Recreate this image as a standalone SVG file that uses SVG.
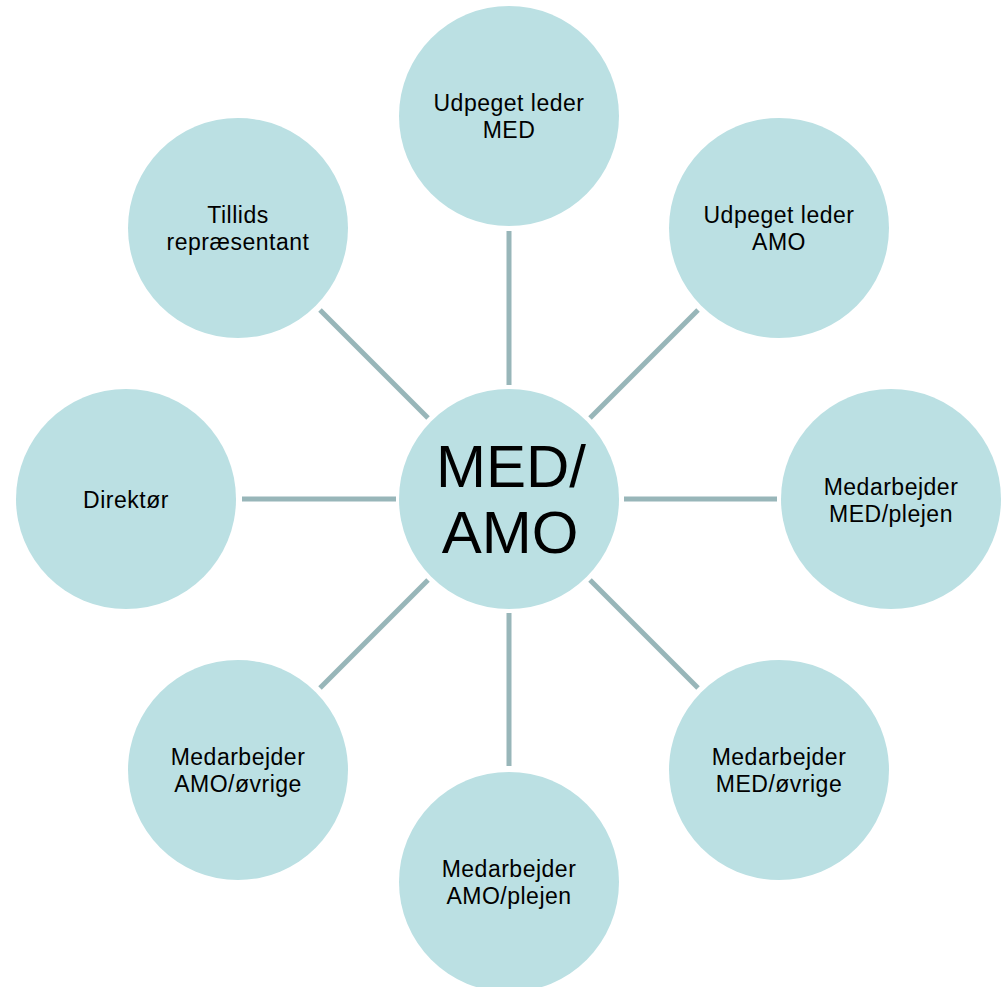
<svg xmlns="http://www.w3.org/2000/svg" width="1006" height="987" viewBox="0 0 1006 987">
<style>
.n{fill:#BBE0E3}
.t{font-family:"Liberation Sans",Arial,sans-serif;font-size:23px;letter-spacing:0.5px;fill:#000;text-anchor:middle}
.c{font-family:"Liberation Sans",Arial,sans-serif;font-size:60px;fill:#000;text-anchor:middle}
.e{stroke:#98B6B9;stroke-width:5;fill:none}
</style>
<rect width="1006" height="987" fill="#fff"/>
<g id="connectors">
<line class="e" x1="509" y1="385" x2="509" y2="231"/>
<line class="e" x1="509" y1="613" x2="509" y2="766"/>
<line class="e" x1="396" y1="499" x2="242" y2="499"/>
<line class="e" x1="624" y1="499" x2="777" y2="499"/>
<line class="e" x1="590" y1="418" x2="698" y2="310"/>
<line class="e" x1="428" y1="418" x2="320" y2="310"/>
<line class="e" x1="590" y1="580" x2="698" y2="688"/>
<line class="e" x1="428" y1="580" x2="320" y2="688"/>
</g>
<g id="center">
<circle class="n" cx="509" cy="499" r="110"/>
<text class="c" x="511" y="487">MED/</text>
<text class="c" x="510" y="553">AMO</text>
</g>
<g id="udpeget-leder-med">
<circle class="n" cx="509" cy="116" r="110"/>
<text class="t" x="509" y="111">Udpeget leder</text>
<text class="t" x="509" y="138">MED</text>
</g>
<g id="udpeget-leder-amo">
<circle class="n" cx="779" cy="228" r="110"/>
<text class="t" x="779" y="223">Udpeget leder</text>
<text class="t" x="779" y="250">AMO</text>
</g>
<g id="medarbejder-med-plejen">
<circle class="n" cx="891" cy="499" r="110"/>
<text class="t" x="891" y="495">Medarbejder</text>
<text class="t" x="891" y="522">MED/plejen</text>
</g>
<g id="medarbejder-med-ovrige">
<circle class="n" cx="779" cy="770" r="110"/>
<text class="t" x="779" y="765">Medarbejder</text>
<text class="t" x="779" y="792">MED/øvrige</text>
</g>
<g id="medarbejder-amo-plejen">
<circle class="n" cx="509" cy="882" r="110"/>
<text class="t" x="509" y="877">Medarbejder</text>
<text class="t" x="509" y="904">AMO/plejen</text>
</g>
<g id="medarbejder-amo-ovrige">
<circle class="n" cx="238" cy="770" r="110"/>
<text class="t" x="238" y="765">Medarbejder</text>
<text class="t" x="238" y="792">AMO/øvrige</text>
</g>
<g id="direktor">
<circle class="n" cx="126" cy="499" r="110"/>
<text class="t" x="126" y="508">Direktør</text>
</g>
<g id="tillids-repraesentant">
<circle class="n" cx="238" cy="228" r="110"/>
<text class="t" x="238" y="223">Tillids</text>
<text class="t" x="238" y="250">repræsentant</text>
</g>
</svg>
